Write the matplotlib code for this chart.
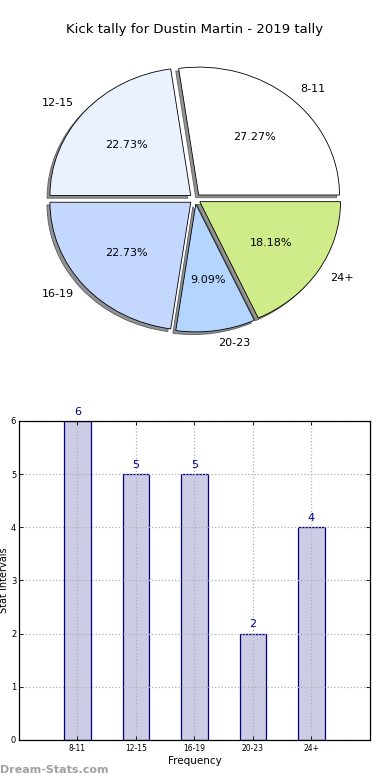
import matplotlib
matplotlib.use("Agg")
import matplotlib.pyplot as plt

# data
categories = ["8-11", "12-15", "16-19", "20-23", "24+"]
counts = [6, 5, 5, 2, 4]
pie_colors = ["#FFFFFF", "#EBF2FF", "#C4D8FF", "#B3D5FF", "#CFEB8A"]

fig = plt.figure(figsize=(3.9, 7.8), dpi=100)

# pie chart (top)
ax1 = fig.add_axes([0.0487, 0.54, 0.9026, 0.41])
wedges, texts, autotexts = ax1.pie(
    counts,
    labels=categories,
    colors=pie_colors,
    explode=[0.04] * len(counts),
    autopct="%.2f%%",
    shadow={"ox": -0.015, "oy": -0.015, "facecolor": "#777777", "alpha": 0.8},
    startangle=0,
    wedgeprops={"edgecolor": "black", "linewidth": 0.6},
    textprops={"fontsize": 8},
)
ax1.set_aspect("auto")
ax1.set_xlim(-1.25, 1.25)
ax1.set_ylim(-1.25, 1.25)
fig.text(0.5, 1 - 30 / 780, "Kick tally for Dustin Martin - 2019 tally",
         ha="center", va="center", fontsize=9.5)

# bar chart (bottom)
ax2 = fig.add_axes([0.0487, 0.0513, 0.9, 0.409])
x = list(range(len(categories)))
bars = ax2.bar(x, counts, width=0.45, color="#CCCCE4", edgecolor="#000080",
               linewidth=0.9, zorder=1)
for xi, c in zip(x, counts):
    ax2.annotate(str(c), (xi, c), xytext=(0, 3), textcoords="offset points",
                 ha="center", va="bottom", fontsize=8, color="#000080")
ax2.set_xlim(-1, 5)
ax2.set_ylim(0, 6)
ax2.set_xticks(x)
ax2.set_xticklabels(categories, fontsize=5.5)
ax2.set_yticks(range(0, 7))
ax2.tick_params(axis="y", labelsize=6, pad=2)
ax2.tick_params(axis="x", pad=3)
ax2.tick_params(direction="in", top=True, right=True, length=3, width=0.6)
ax2.grid(True, linestyle=":", color="#B0B0B0", linewidth=0.9, zorder=1.5)
ax2.set_axisbelow(False)
ax2.set_xlabel("Frequency", fontsize=7.5, labelpad=2)
ax2.set_ylabel("Stat Intervals", fontsize=7)
ax2.yaxis.set_label_coords(-0.029, 0.5)
for s in ax2.spines.values():
    s.set_linewidth(0.9)
    s.set_zorder(3)

fig.text(0.0, 1 - 770 / 780, "Dream-Stats.com", ha="left", va="center",
         fontsize=8, fontweight="bold", color="#A0A0A0")

fig.savefig("out.png", dpi=100)
